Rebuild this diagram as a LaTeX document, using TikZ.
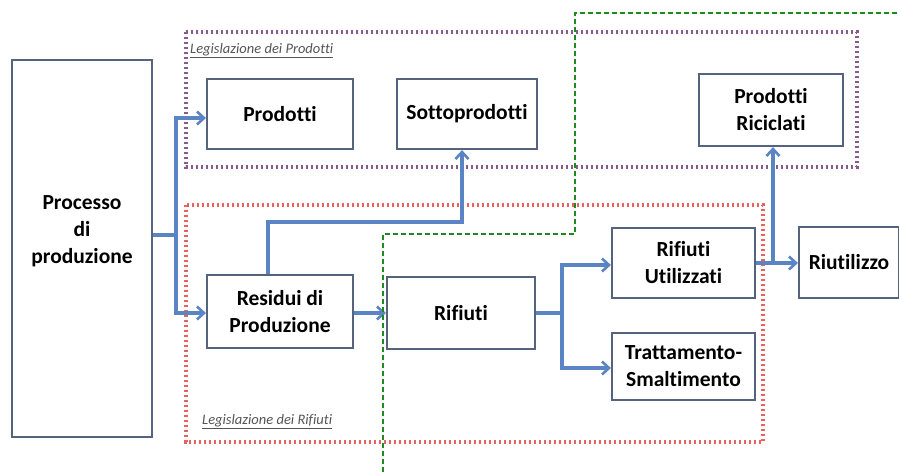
\documentclass[tikz,border=0pt]{standalone}
\usepackage{fontspec}
\setmainfont{Carlito}[Ligatures=NoCommon]
\usetikzlibrary{arrows.meta}
\definecolor{boxline}{HTML}{56637E}
\definecolor{flow}{HTML}{5B84C4}
\definecolor{prodzone}{HTML}{8A5A8E}
\definecolor{wastezone}{HTML}{E8615A}
\definecolor{border}{HTML}{1E8A1E}
\definecolor{labelgray}{HTML}{555555}
\begin{document}
\begin{tikzpicture}[x=1pt,y=-1pt,
  boxtext/.style={font=\bfseries\fontsize{21.5}{27}\selectfont,align=center,inner sep=0pt},
  procbox/.style={draw=boxline,line width=2.2pt,fill=white,boxtext},
  flowline/.style={draw=flow,line width=3.4pt},
  flowarrow/.style={flowline,-{Straight Barb[length=7pt,width=13pt,line width=2.6pt]}},
  zone/.style={line width=3.2pt,dash pattern=on 2.4pt off 2.6pt},
  zonelabel/.style={font=\itshape\fontsize{14.5}{17}\selectfont,text=labelgray,anchor=west,inner sep=0pt}]
\useasboundingbox (0,0) rectangle (899,472);
\fill[white] (0,0) rectangle (899,472);

% legislative areas
\draw[zone,prodzone] (186,32) rectangle (857,167);
\draw[zone,wastezone] (186,205) rectangle (763,442);
\node[zonelabel] (lp) at (190,51) {\underline{Legislazione dei Prodotti}};
\node[zonelabel] (lr) at (202,422) {\underline{Legislazione dei Rifiuti}};

% process boxes
\node[procbox,minimum width=140pt,minimum height=377pt] (proc) at (82,248.5) {};
\node[boxtext] (proctext) at (82,231) {Processo\\di\\produzione};
\node[procbox,minimum width=146pt,minimum height=70pt] (prod) at (280,114) {Prodotti};
\node[procbox,minimum width=140pt,minimum height=70pt] (sott) at (467,114) {Sottoprodotti};
\node[procbox,minimum width=144pt,minimum height=72pt] (ric) at (771,110) {Prodotti\\Riciclati};
\node[procbox,minimum width=146pt,minimum height=73pt] (res) at (280,311.5) {Residui di\\Produzione};
\node[procbox,minimum width=148pt,minimum height=72pt] (rif) at (461,313) {Rifiuti};
\node[procbox,minimum width=143pt,minimum height=70pt] (util) at (683.5,263) {Rifiuti\\Utilizzati};
\node[procbox,minimum width=143pt,minimum height=67pt] (tratt) at (683.5,366.5) {Trattamento-\\Smaltimento};
\node[procbox,minimum width=100pt,minimum height=71pt] (riut) at (849,262.5) {Riutilizzo};

% junction points
\coordinate (j1) at (176,235);
\coordinate (j2) at (562,313);
\coordinate (j3) at (773,263);

% flows
\draw[flowline] (proc.east |- j1) -- (j1);
\draw[flowarrow] (j1) |- (prod.west |- 0,118);
\draw[flowarrow] (j1) |- (res.west |- 0,313);
\draw[flowarrow] (res.north -| 268,0) -- (268,222) -| (sott.south -| 462,0);
\draw[flowarrow] (res.east |- 0,313) -- (rif.west |- 0,313);
\draw[flowline] (rif.east |- j2) -- (j2);
\draw[flowarrow] (j2) |- (util.west |- 0,265);
\draw[flowarrow] (j2) |- (tratt.west |- 0,368);
\draw[flowarrow] (util.east |- j3) -- (riut.west |- j3);
\draw[flowarrow] (j3) -- (ric.south -| j3);

% dividing line
\draw[border,line width=1.8pt,dash pattern=on 5pt off 3pt]
  (383,472) -- (383,234) -- (575,234) -- (575,13) -- (899,13);
\end{tikzpicture}
\end{document}
